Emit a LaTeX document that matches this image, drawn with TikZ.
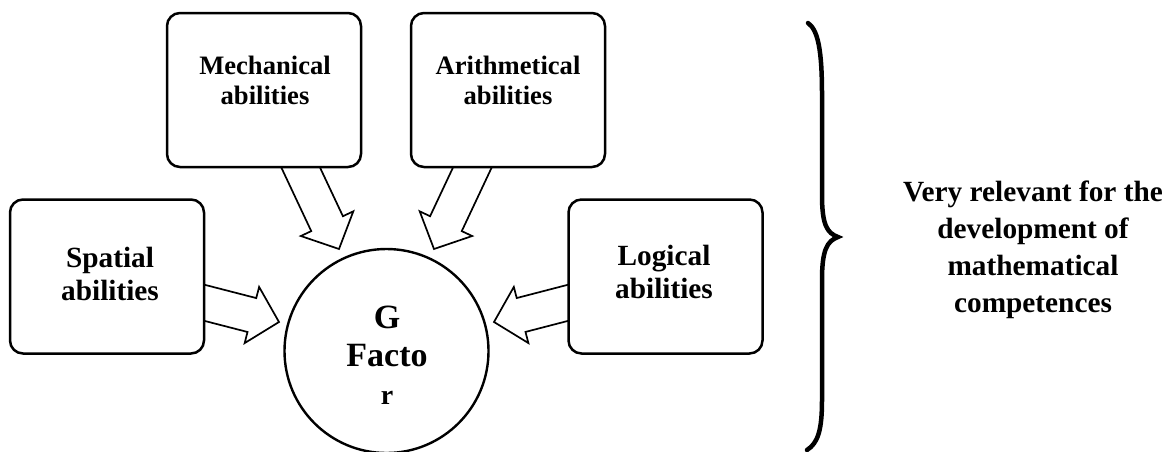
\documentclass[tikz,border=0pt]{standalone}
\usepackage{fontspec}
\setmainfont{Liberation Serif}
\usetikzlibrary{calc, backgrounds}

\tikzset{
    ability/.style={draw, fill=white, line width=2.5pt, rounded corners=13pt, minimum width=194pt, minimum height=154pt, inner sep=0pt},
    smalltext/.style={align=center, font=\bfseries\fontsize{26.6}{30}\selectfont},
    bigtext/.style={align=center, font=\bfseries\fontsize{29.3}{33}\selectfont},
    hollow/.style={line width=1.7pt, line join=miter},
}

% block arrow: #1 start coordinate (on the box), #2 tip coordinate
\newcommand{\fatarrow}[2]{%
    \coordinate (#1-base) at ($(#2)!28pt!(#1)$);
    \coordinate (#1-back) at ($(#1)!-25pt!(#2)$);
    \begin{pgfonlayer}{background}
    \draw[hollow] ($(#1-back)!17.5pt!90:(#2)$) -- ($(#1-base)!17.5pt!90:(#2)$) -- ($(#1-base)!29pt!90:(#2)$)
        -- (#2) -- ($(#1-base)!29pt!-90:(#2)$) -- ($(#1-base)!17.5pt!-90:(#2)$) -- ($(#1-back)!17.5pt!-90:(#2)$);
    \end{pgfonlayer}
}

\begin{document}
\begin{tikzpicture}[x=1pt, y=-1pt]
                \useasboundingbox (0, 0) rectangle (1174, 451);

                \node[ability] (mech) at (264, 90) {};
                \node[ability] (arith) at (508, 90) {};
                \node[ability] (spatial) at (107, 276.5) {};
                \node[ability] (logical) at (665.5, 276.5) {};
                \node[smalltext] (mechtxt) at (265, 80) {Mechanical\\abilities};
                \node[smalltext] (arithtxt) at (508, 80) {Arithmetical\\abilities};
                \node[bigtext] (spatialtxt) at (110, 273.5) {Spatial\\abilities};
                \node[bigtext] (logicaltxt) at (664, 271.5) {Logical\\abilities};

                \node[draw, circle, line width=2.4pt, minimum size=204pt, inner sep=0pt] (gf) at (386.5, 351) {};
                \node[align=center, font=\bfseries\fontsize{34}{38}\selectfont] (gftxt) at (387, 355)
                    {G\\Facto\\{\fontsize{28}{38}\selectfont r}};

                \coordinate (ms) at ([xshift=37pt]mech.south);
                \coordinate (as) at ([xshift=-36pt]arith.south);
                \coordinate (ss) at ([yshift=-26.5pt]spatial.east);
                \coordinate (ls) at ([yshift=-26.5pt]logical.west);
                \coordinate (mt) at (339, 249);
                \coordinate (at) at (434, 249);
                \coordinate (st) at (279, 322);
                \coordinate (lt) at (494, 322);

                \fatarrow{ms}{mt}
                \fatarrow{as}{at}
                \fatarrow{ss}{st}
                \fatarrow{ls}{lt}

                % curly brace
                \draw[line width=4.5pt, line cap=round] (808, 23) .. controls (818, 30) and (822, 50) .. (822, 95)
                    -- (822, 195) .. controls (822, 225) and (827, 233) .. (838, 237)
                    .. controls (827, 241) and (822, 250) .. (822, 280)
                    -- (822, 400) .. controls (822, 430) and (818, 443) .. (807, 450);

                \node[align=center, font=\bfseries\fontsize{29.3}{37}\selectfont] (relevant) at (1033, 250)
                    {Very relevant for the\\development of\\mathematical\\competences};
            \end{tikzpicture}
\end{document}
